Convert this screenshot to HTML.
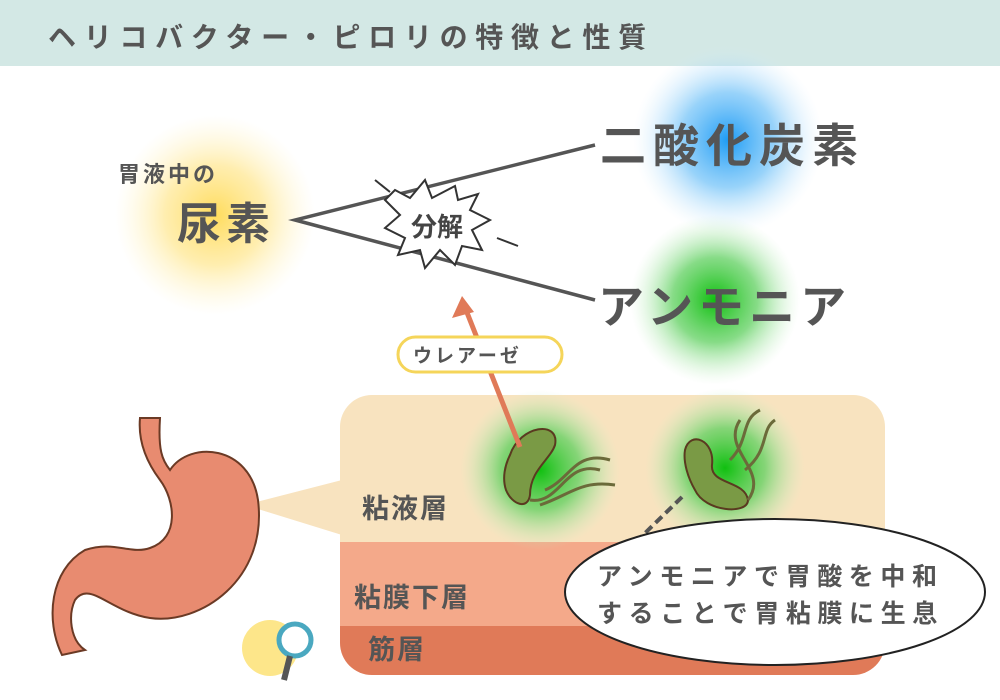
<!DOCTYPE html>
<html><head><meta charset="utf-8"><style>
body{margin:0;width:1000px;height:700px;overflow:hidden;background:#fff;font-family:"Liberation Sans","Noto Sans CJK JP",sans-serif;}
</style></head><body>
<svg width="1000" height="700" xmlns="http://www.w3.org/2000/svg" style="position:absolute;left:0;top:0">
<defs>
<radialGradient id="gy"><stop offset="0" stop-color="#ffd84a" stop-opacity="0.9"/><stop offset="0.5" stop-color="#ffe27a" stop-opacity="0.6"/><stop offset="1" stop-color="#fff3c0" stop-opacity="0"/></radialGradient>
<radialGradient id="gb"><stop offset="0" stop-color="#1e9cf5"/><stop offset="0.5" stop-color="#6cc0f8" stop-opacity="0.7"/><stop offset="1" stop-color="#d8eefc" stop-opacity="0"/></radialGradient>
<radialGradient id="gg"><stop offset="0" stop-color="#10c010"/><stop offset="0.5" stop-color="#5fd05f" stop-opacity="0.75"/><stop offset="1" stop-color="#c8f0c8" stop-opacity="0"/></radialGradient>
<clipPath id="bx"><rect x="340" y="395" width="545" height="280" rx="32"/></clipPath>
</defs>
<rect x="0" y="0" width="1000" height="66" fill="#d3e8e5"/>
<text x="48" y="47" font-size="28" fill="#555" letter-spacing="7.7" font-weight="bold">ヘリコバクター・ピロリの特徴と性質</text>

<circle cx="215" cy="215" r="100" fill="url(#gy)"/>
<circle cx="728" cy="140" r="95" fill="url(#gb)"/>
<circle cx="715" cy="300" r="85" fill="url(#gg)"/>
<text x="118" y="182" font-size="22" fill="#555" letter-spacing="3" font-weight="bold">胃液中の</text>
<text x="177" y="239" font-size="44" fill="#555" letter-spacing="5" font-weight="bold">尿素</text>
<text x="600" y="162" font-size="46" fill="#555" letter-spacing="7" font-weight="bold">二酸化炭素</text>
<text x="598" y="323" font-size="46" fill="#555" letter-spacing="5" font-weight="bold">アンモニア</text>
<polyline points="595,145 295,220 595,300" fill="none" stroke="#555" stroke-width="3.5"/>
<polygon points="395,190 410,198 425,180 432,198 455,186 458,200 478,194 470,210 490,220 472,230 482,250 462,246 455,265 440,250 425,268 420,250 398,255 405,238 385,228 400,215 385,200" fill="#fff" stroke="#333" stroke-width="2"/>
<text x="411" y="236" font-size="26" fill="#444" font-weight="bold">分解</text>
<line x1="375" y1="180" x2="390" y2="192" stroke="#333" stroke-width="2"/>
<line x1="497" y1="238" x2="518" y2="246" stroke="#333" stroke-width="2"/>

<g clip-path="url(#bx)">
<rect x="340" y="395" width="545" height="147" fill="#f8e3bf"/>
<rect x="340" y="542" width="545" height="84" fill="#f4a98a"/>
<rect x="340" y="626" width="545" height="50" fill="#e07a58"/>
</g>
<polygon points="245,505 342,480 342,535" fill="#f8e3bf"/>
<text x="362" y="518" font-size="27" fill="#555" letter-spacing="2" font-weight="bold">粘液層</text>
<text x="354" y="607" font-size="27" fill="#555" letter-spacing="2" font-weight="bold">粘膜下層</text>
<text x="368" y="659" font-size="27" fill="#555" letter-spacing="2" font-weight="bold">筋層</text>

<circle cx="540" cy="470" r="80" fill="url(#gg)"/>
<circle cx="725" cy="468" r="80" fill="url(#gg)"/>
<path d="M510,455 C520,425 560,420 555,445 C550,460 530,470 530,495 C528,510 512,505 506,490 C502,478 505,465 510,455Z" fill="#7a9a45" stroke="#5a3a20" stroke-width="2"/>
<path d="M530,500 C560,505 565,460 600,470 M545,490 C570,480 575,450 610,460 M540,505 C570,495 580,480 615,485" fill="none" stroke="#6b6a3a" stroke-width="3"/>
<path d="M685,450 C690,430 715,440 712,465 C710,485 745,480 748,500 C748,515 705,512 695,490 C688,478 683,462 685,450Z" fill="#7a9a45" stroke="#5a3a20" stroke-width="2"/>
<path d="M748,500 C770,470 720,450 740,420 M730,460 C750,440 740,420 760,410 M745,470 C770,450 760,430 775,420" fill="none" stroke="#6b6a3a" stroke-width="3"/>

<line x1="520" y1="447" x2="466" y2="310" stroke="#e07a58" stroke-width="5"/>
<polygon points="462,296 452,318 474,312" fill="#e07a58"/>
<rect x="398" y="337" width="164" height="35" rx="17.5" fill="#fff" stroke="#f5d55a" stroke-width="3"/>
<text x="413" y="362" font-size="19" fill="#555" letter-spacing="3" font-weight="bold">ウレアーゼ</text>

<line x1="682" y1="497" x2="640" y2="538" stroke="#555" stroke-width="4" stroke-dasharray="9,5"/>
<ellipse cx="775" cy="592" rx="210" ry="73" fill="#fff" stroke="#222" stroke-width="2"/>
<text x="597" y="585" font-size="25" fill="#555" letter-spacing="6.6" font-weight="bold">アンモニアで胃酸を中和</text>
<text x="597" y="622" font-size="25" fill="#555" letter-spacing="6.6" font-weight="bold">することで胃粘膜に生息</text>

<path d="M140,418 L160,418 C158,450 162,460 170,470 C190,440 250,445 258,500 C268,580 200,625 150,618 C110,612 90,580 75,600 C68,615 70,640 85,650 L62,655 C45,620 50,570 85,550 C115,540 130,555 150,548 C180,538 175,500 160,480 C145,460 138,440 140,418Z" fill="#e88b70" stroke="#6b3a25" stroke-width="2"/>

<circle cx="270" cy="648" r="28" fill="#fde68a"/>
<circle cx="295" cy="640" r="16" fill="#fff" stroke="#4aa8c0" stroke-width="5"/>
<line x1="290" y1="656" x2="284" y2="680" stroke="#555" stroke-width="6"/>
</svg>
</body></html>
